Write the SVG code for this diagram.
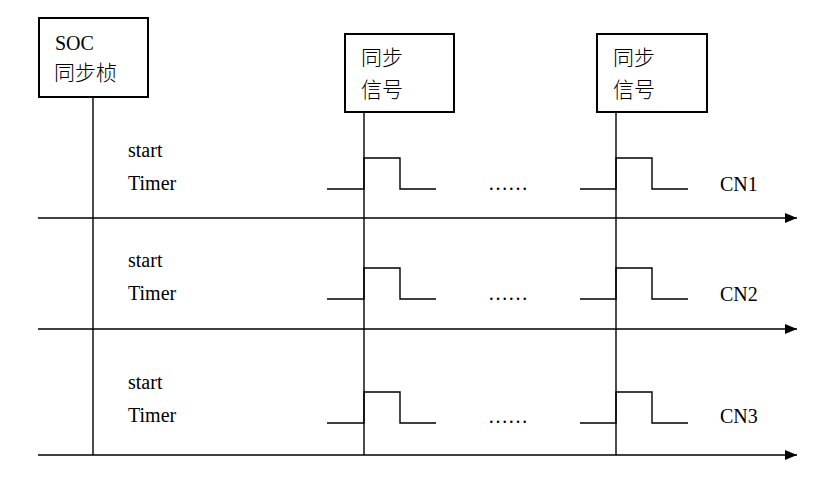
<svg xmlns="http://www.w3.org/2000/svg" width="834" height="478" viewBox="0 0 834 478">
<defs>
<style>
.ln{stroke:#000;stroke-width:1.4;fill:none}
.box{stroke:#000;stroke-width:2;fill:#fff}
.en{font-family:"Liberation Serif","Times New Roman",serif;font-size:20px;fill:#000}
.zh{font-family:"Noto Sans CJK SC",sans-serif;font-weight:300;font-size:21px;fill:#000}
</style>
<marker id="arr" markerWidth="12" markerHeight="10" refX="12" refY="5" orient="auto" markerUnits="userSpaceOnUse">
<path d="M0,0 L12,5 L0,10 Z" fill="#000"/>
</marker>
</defs>
<rect width="834" height="478" fill="#fff"/>
<g id="connectors">
<line class="ln" x1="93" y1="97" x2="93" y2="455"/>
<line class="ln" x1="364" y1="112" x2="364" y2="455"/>
<line class="ln" x1="616" y1="112" x2="616" y2="455"/>
<line class="ln" x1="38" y1="218" x2="797" y2="218" marker-end="url(#arr)"/>
<line class="ln" x1="38" y1="329" x2="797" y2="329" marker-end="url(#arr)"/>
<line class="ln" x1="38" y1="455" x2="797" y2="455" marker-end="url(#arr)"/>
<polyline class="ln" points="327,189 364,189 364,158 400,158 400,189 436,189"/>
<polyline class="ln" points="580,189 616,189 616,158 652,158 652,189 688,189"/>
<polyline class="ln" points="327,299 364,299 364,268 400,268 400,299 436,299"/>
<polyline class="ln" points="580,299 616,299 616,268 652,268 652,299 688,299"/>
<polyline class="ln" points="327,423 364,423 364,392 400,392 400,423 436,423"/>
<polyline class="ln" points="580,423 616,423 616,392 652,392 652,423 688,423"/>
</g>
<g id="soc">
<rect class="box" x="39" y="18" width="109" height="79"/>
<text class="en" x="55" y="50">SOC</text>
<text class="zh" x="54" y="80">同步桢</text>
</g>
<g id="sync1">
<rect class="box" x="345" y="34" width="109" height="78"/>
<text class="zh" x="361" y="65">同步</text>
<text class="zh" x="361" y="97">信号</text>
</g>
<g id="sync2">
<rect class="box" x="597" y="34" width="110" height="78"/>
<text class="zh" x="613" y="65">同步</text>
<text class="zh" x="613" y="97">信号</text>
</g>
<g id="row1">
<text class="en" x="128" y="157">start</text>
<text class="en" x="128" y="190">Timer</text>
<text class="en" x="488" y="190">……</text>
<text class="en" x="720" y="191">CN1</text>
</g>
<g id="row2">
<text class="en" x="128" y="267">start</text>
<text class="en" x="128" y="300">Timer</text>
<text class="en" x="488" y="300">……</text>
<text class="en" x="720" y="301">CN2</text>
</g>
<g id="row3">
<text class="en" x="128" y="389">start</text>
<text class="en" x="128" y="422">Timer</text>
<text class="en" x="488" y="423">……</text>
<text class="en" x="720" y="423">CN3</text>
</g>
</svg>
